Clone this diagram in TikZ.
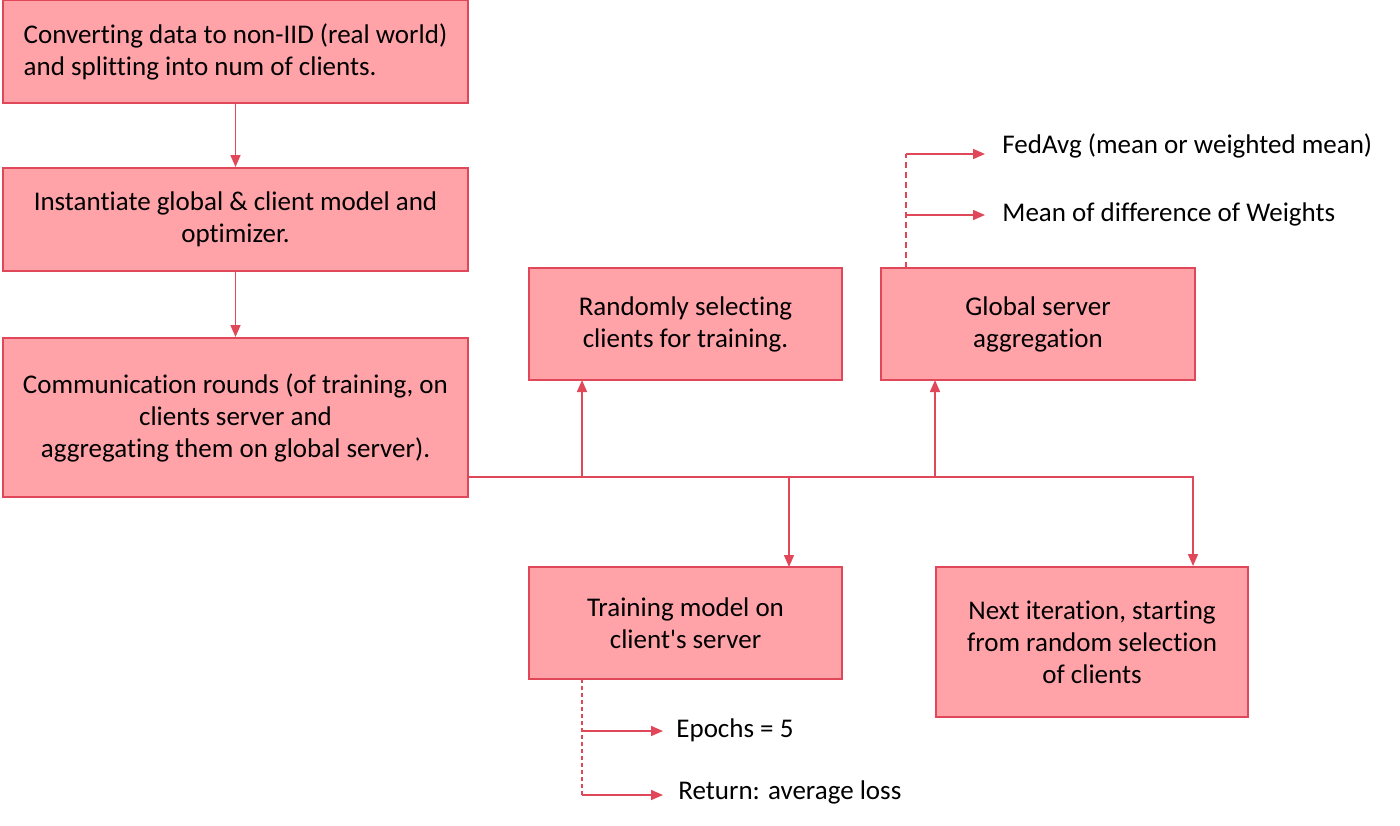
\documentclass[tikz,border=0pt]{standalone}
\usepackage{fontspec}
\setmainfont{Carlito}[Ligatures={NoCommon,TeXOff}]
\usetikzlibrary{arrows.meta}
\definecolor{boxfill}{HTML}{FFA3A9}
\definecolor{boxline}{HTML}{E0485A}

\begin{document}
\begin{tikzpicture}[
  x=0.5pt, y=-0.5pt,
  font=\fontsize{13.5}{16}\selectfont,
  blk/.style={draw=boxline, fill=boxfill, line width=1pt, inner sep=0pt,
    align=center, minimum width=#1},
  lbl/.style={anchor=west, inner sep=0pt},
  conn/.style={draw=boxline, line width=0.8pt, -{Triangle[length=6pt,width=5pt]}},
  sub/.style={draw=boxline, line width=0.8pt},
]
\useasboundingbox (0,0) rectangle (1400,825);

\node [blk=232.5pt, minimum height=51.5pt, align=left] (split) at (235.5,51.5)
  {Converting data to non-IID (real world)\\and splitting into num of clients.};
\node [blk=232.5pt, minimum height=51.5pt] (init) at (235.5,219.5)
  {Instantiate global \& client model and\\optimizer.};
\node [blk=232.5pt, minimum height=79.5pt] (rounds) at (235.5,417.5)
  {Communication rounds (of training, on\\clients server and\\aggregating them on global server).};
\node [blk=156.5pt, minimum height=56pt] (select) at (685.5,324)
  {Randomly selecting\\clients for training.};
\node [blk=157pt, minimum height=56pt] (agg) at (1038,324)
  {Global server\\aggregation};
\node [blk=156.5pt, minimum height=56pt] (train) at (685.5,623)
  {Training model on\\client's server};
\node [blk=156pt, minimum height=75pt] (next) at (1092,642)
  {Next iteration, starting\\from random selection\\of clients};

\draw [conn] (split) -- (init);
\draw [conn] (init) -- (rounds);

\coordinate (busL) at (468,477);
\coordinate (busR) at (1193,477);
\draw [conn] (busL) -- (busR) -- (busR |- next.north);
\draw [conn] (582,477) -- (582,380);
\draw [conn] (935,477) -- (935,380);
\draw [conn] (789,477) -- (789,567);

% aggregation options
\draw [sub, dash pattern=on 3pt off 2pt] (906,268) -- (906,154);
\draw [conn] (906,154) -- (985,154);
\draw [conn] (906,215) -- (985,215);
\node [lbl] (fedavg) at (1002,146) {FedAvg (mean or weighted mean)};
\node [lbl] (meandiff) at (1002,214) {Mean of difference of Weights};

% training options
\draw [sub, dash pattern=on 2pt off 1.5pt] (582,679) -- (582,795);
\draw [conn] (582,731) -- (663,731);
\draw [conn] (582,795) -- (663,795);
\node [lbl] (epochs) at (676,730) {Epochs = 5};
\node [lbl] (ret) at (678,792) {Return: average loss};

\end{tikzpicture}
\end{document}
